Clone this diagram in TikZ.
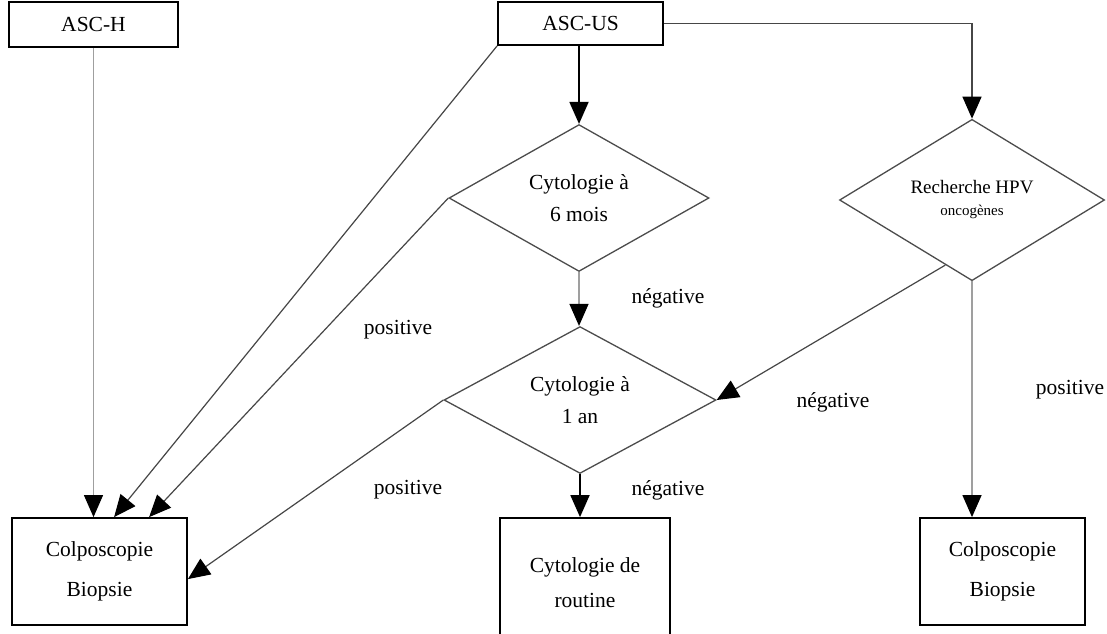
\documentclass[tikz,border=0pt]{standalone}
\usepackage{fontspec}
\setmainfont{Liberation Serif}
\usetikzlibrary{shapes.geometric,arrows.meta,calc}
\begin{document}
\begin{tikzpicture}[x=1pt,y=-1pt,
  box/.style={draw=black,line width=1.8pt,align=center,inner sep=0pt,font=\fontsize{21.5}{40}\selectfont},
  dia/.style={diamond,draw=gray!60!black,line width=1.3pt,inner sep=0pt,align=center,font=\fontsize{21.5}{32}\selectfont},
  conn/.style={draw=gray!55!black,line width=1.2pt,-{Triangle[length=22pt,width=19pt,color=black]}},
  connlight/.style={conn,draw=gray!75},
  connk/.style={draw=black,line width=1.8pt,-{Triangle[length=22pt,width=19pt,color=black]}},
  lbl/.style={font=\fontsize{21.5}{24}\selectfont,inner sep=0pt}]
\clip (0,0) rectangle (1107,633);
\fill[white] (0,0) rectangle (1107,633);
% boxes
\node[box,minimum width=169pt,minimum height=45pt] (asch) at (93.5,24.5) {ASC-H};
\node[box,minimum width=165pt,minimum height=43pt] (ascus) at (580.5,23.5) {ASC-US};
\node[box,minimum width=175pt,minimum height=107pt] (colpoL) at (99.5,571.5) {Colposcopie\\Biopsie};
\node[box,minimum width=170pt,minimum height=130pt,font=\fontsize{21.5}{35}\selectfont] (routine) at (585,583) {Cytologie de\\routine};
\node[box,minimum width=165pt,minimum height=107pt] (colpoR) at (1002.5,571.5) {Colposcopie\\Biopsie};
% diamonds
\node[dia,minimum width=260pt,minimum height=140pt] (d1) at (579,198) {Cytologie à\\6 mois};
\node[dia,minimum width=265pt,minimum height=140pt,font=\fontsize{19}{22}\selectfont] (d2) at (972,200) {Recherche HPV\\{\fontsize{15}{22}\selectfont oncogènes}};
\node[dia,minimum width=272pt,minimum height=140pt] (d3) at (580,400) {Cytologie à\\1 an};
% connectors
\draw[connlight] (asch.south) -- (asch.south |- colpoL.north);
\draw[conn] (ascus.south west) -- ($(colpoL.north west)+(103,0)$);
\draw[conn] (d1.west) -- ($(colpoL.north west)+(138,0)$);
\draw[conn] (d3.west) -- ($(colpoL.north east)+(0,62)$);
\draw[connk] (d1.north |- ascus.south) -- (d1.north);
\draw[conn] (ascus.east) -| (d2.north);
\draw[connlight] (d1.south) -- (d1.south |- d3.north);
\draw[conn] ($(d2.west)!0.8!(d2.south)$) -- (d3.east);
\draw[connlight] (d2.south) -- (d2.south |- colpoR.north);
\draw[connk] (d3.south) -- (d3.south |- routine.north);
% labels
\node[lbl] (l1) at (398,330) {positive};
\node[lbl] (l2) at (668,298) {négative};
\node[lbl] (l3) at (408,490) {positive};
\node[lbl] (l4) at (668,490) {négative};
\node[lbl] (l5) at (833,402) {négative};
\node[lbl] (l6) at (1070,390) {positive};
\end{tikzpicture}
\end{document}
